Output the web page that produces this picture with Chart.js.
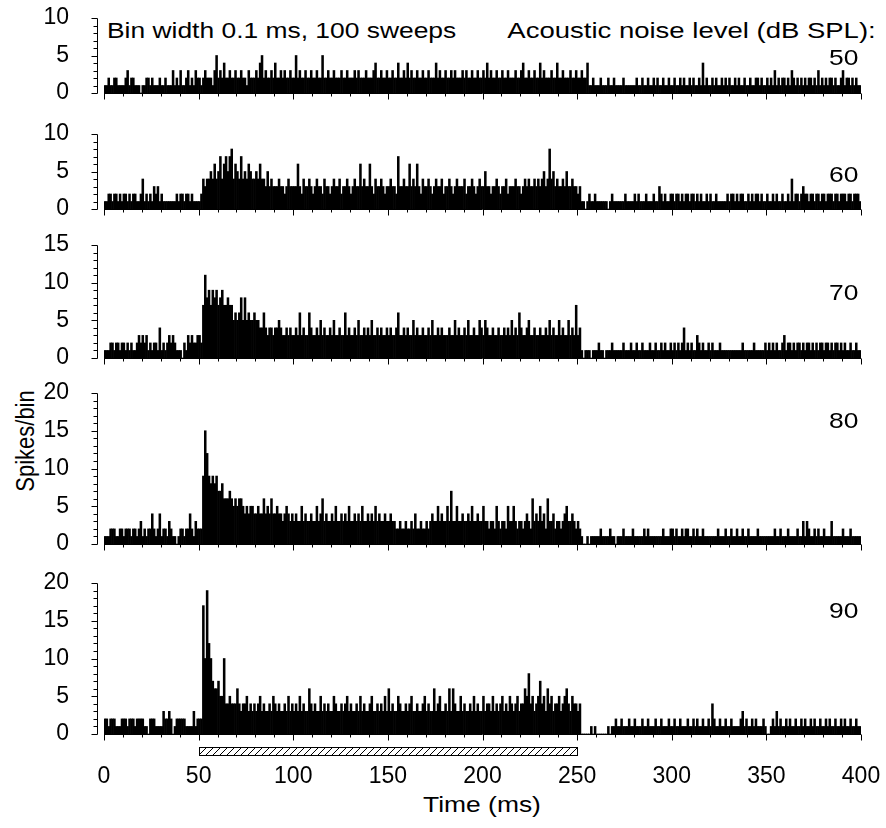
<!DOCTYPE html>
<html>
<head>
<meta charset="utf-8">
<script src="https://cdn.jsdelivr.net/npm/chart.js@4.4.1/dist/chart.umd.min.js"></script>
<style>
  body { margin: 0; width: 886px; height: 828px; position: relative; overflow: hidden; background: #fff;
         font-family: "Liberation Sans", Arial, sans-serif; color: #000; }
  canvas { position: absolute; left: 0; }
  .txt { position: absolute; font-size: 22px; line-height: 22px; white-space: nowrap; }
</style>
</head>
<body>
<div class="txt" style="left:107px; top:20px; transform:scaleX(1.2); transform-origin:left center;">Bin width 0.1 ms, 100 sweeps</div>
<div class="txt" style="right:10px; top:20px; transform:scaleX(1.25); transform-origin:right center;">Acoustic noise level (dB SPL):</div>
<div class="txt" style="left:26px; top:441px; transform:translate(-50%,-50%) rotate(-90deg) scaleY(1.2);">Spikes/bin</div>
<div class="txt" style="left:482px; top:805px; transform:translate(-50%,-50%) scaleX(1.2);">Time (ms)</div>
<script>
// noise levels (dB SPL) and y-axis maximum of each panel
const levels = ['50', '60', '70', '80', '90'];
const yMax = [10, 10, 15, 20, 20];
// stimulus on / off (ms)
const stimulus = [50, 250];

// spikes per bin, read per 1 ms column (0 - 400 ms)
const counts50 = [
  1,1,2,1,1,2,2,1,1,1, 1,2,3,1,2,2,1,1,1,0, 1,1,2,2,1,2,1,1,1,2, 1,1,2,1,1,1,3,1,2,1, 3,1,1,2,3,1,2,1,3,2,
  2,1,2,3,2,2,2,1,3,5, 2,3,2,4,2,2,3,2,2,3, 2,2,3,2,2,1,3,2,2,2, 3,2,4,5,2,3,2,2,3,2, 4,2,2,3,2,3,2,2,3,2,
  2,5,2,3,2,2,3,2,2,3, 2,2,3,2,2,5,2,2,3,2, 2,3,2,2,2,3,2,2,3,2, 2,2,3,2,3,2,2,2,3,2, 2,2,3,4,2,2,3,2,2,3,
  2,2,3,2,2,4,2,2,3,2, 4,2,3,2,2,3,2,2,3,2, 2,3,2,2,2,4,2,3,2,2, 3,2,2,3,2,3,2,2,2,3, 2,3,2,2,3,2,2,3,2,2,
  3,2,4,2,3,2,2,3,2,2, 3,2,2,3,2,2,2,3,2,2, 3,4,2,2,3,2,2,3,2,2, 4,2,3,2,2,2,3,2,2,4, 2,2,3,2,2,2,3,2,2,3,
  2,2,3,2,2,4,1,1,2,1, 1,1,2,1,1,1,2,1,1,2, 1,1,1,1,2,1,1,1,1,1, 1,2,1,1,2,1,1,2,1,1, 2,1,2,1,1,2,1,1,2,1,
  1,2,1,1,2,1,2,1,1,2, 1,2,1,1,2,1,4,1,2,1, 1,2,1,2,1,1,2,1,2,1, 2,1,1,2,1,2,1,1,2,1, 1,2,1,1,2,2,1,2,1,1,
  2,1,2,1,3,1,2,1,2,2, 1,2,1,3,2,1,2,1,2,1, 2,1,2,2,1,2,1,3,1,2, 1,2,1,2,2,1,2,1,1,2, 3,1,2,2,1,2,1,2,1,1
];
const counts60 = [
  1,1,2,2,1,2,2,1,2,1, 2,2,1,2,1,2,2,1,1,2, 4,1,2,1,2,1,3,2,3,1, 2,1,1,1,1,1,1,1,2,1, 2,2,1,2,2,1,2,1,1,1,
  1,2,4,3,4,4,5,4,6,4, 5,7,4,6,7,5,7,8,4,6, 5,4,7,4,5,4,6,5,4,4, 5,4,6,4,4,3,5,3,4,3, 3,3,4,3,3,2,3,4,3,3,
  3,3,6,3,2,4,3,3,4,3, 2,3,4,3,3,2,4,3,3,2, 3,4,3,3,4,2,3,3,4,3, 2,3,4,3,3,6,3,4,3,3, 6,3,2,4,3,3,4,3,2,3,
  3,4,3,3,2,7,3,3,4,3, 3,6,3,4,3,6,3,2,4,3, 3,4,3,2,3,4,3,3,4,2, 3,3,4,3,2,3,4,3,3,3, 4,2,3,3,4,3,2,3,4,3,
  3,5,3,3,2,3,3,4,3,2, 3,3,4,2,3,3,3,4,3,3, 2,3,4,3,4,3,3,4,3,4, 3,4,5,3,4,8,4,5,3,4, 3,3,4,3,5,3,3,4,3,3,
  2,3,1,1,0,1,2,1,1,2, 1,1,1,1,1,1,0,1,2,1, 1,1,1,1,1,2,1,1,1,1, 2,1,2,1,1,1,2,1,1,1, 2,1,1,3,2,1,2,1,1,2,
  2,1,2,2,1,2,1,2,2,1, 2,2,1,2,1,2,1,1,2,1, 2,1,1,2,1,1,1,1,1,2, 1,2,2,1,2,1,2,2,1,1, 2,1,2,1,2,2,1,2,1,1,
  2,1,1,2,1,2,1,1,2,1, 1,2,1,4,1,2,2,1,2,3, 2,2,1,2,2,1,2,2,1,2, 2,1,2,2,2,1,2,2,1,2, 2,2,1,2,2,1,2,2,2,1
];
const counts70 = [
  1,1,1,2,2,1,2,2,1,2, 2,1,2,1,2,1,1,2,3,2, 3,2,3,1,2,1,2,2,1,4, 1,2,1,2,3,2,3,2,1,1, 1,0,2,1,3,2,3,2,2,3,
  3,2,7,11,8,9,7,9,8,9, 7,8,9,7,7,8,7,7,5,6, 5,6,8,5,8,5,6,5,5,6, 5,5,4,4,6,4,3,4,4,3, 4,4,5,4,3,3,4,3,4,3,
  3,4,3,6,3,4,3,3,6,4, 3,3,4,3,5,3,4,3,3,4, 3,5,3,3,4,3,3,6,3,4, 3,3,4,3,5,3,3,4,3,4, 3,5,3,3,4,3,4,3,3,4,
  3,4,3,3,4,6,3,3,4,3, 4,3,3,5,3,4,3,3,4,3, 3,4,3,5,3,3,4,3,4,3, 3,3,4,3,3,5,3,4,3,3, 4,3,5,3,3,4,3,3,5,4,
  3,5,4,3,3,4,3,3,4,3, 3,4,3,4,3,5,3,4,3,6, 4,3,3,4,5,3,3,4,3,3, 4,3,3,4,3,5,3,4,3,3, 5,3,4,3,3,5,3,4,3,7,
  3,4,1,0,1,1,1,0,1,1, 1,2,1,1,0,1,1,1,2,1, 1,1,1,1,2,1,1,1,2,1, 1,2,1,1,2,1,1,1,2,1, 1,2,1,1,2,1,2,1,1,2,
  1,2,1,2,1,2,4,1,2,1, 2,1,1,3,2,1,2,1,1,2, 1,2,1,1,1,2,1,1,1,1, 1,1,1,1,1,1,1,2,1,1, 1,1,1,2,1,1,1,1,1,2,
  1,2,1,2,1,2,1,1,2,3, 1,2,2,1,2,1,2,2,1,2, 1,2,2,1,2,1,2,1,2,2, 1,2,2,1,2,1,2,2,1,2, 1,2,1,1,2,1,1,2,1,1
];
const counts80 = [
  1,1,1,2,2,2,1,1,2,2, 1,2,2,2,1,2,2,1,2,3, 1,2,1,2,2,4,2,1,2,4, 1,2,2,1,3,2,1,1,0,1, 2,2,1,2,2,4,2,1,3,2,
  2,2,9,15,12,9,8,9,8,9, 7,7,8,6,6,6,7,6,5,6, 5,6,6,5,4,5,4,5,5,4, 4,5,4,4,6,4,5,4,6,4, 4,5,4,4,3,4,5,4,3,4,
  3,4,3,3,5,3,4,3,3,4, 3,3,5,3,4,6,3,4,3,3, 4,3,5,3,3,4,3,4,3,5, 3,3,4,3,4,3,5,3,3,4, 3,4,3,5,3,4,3,3,4,3,
  3,4,3,3,2,2,3,2,2,3, 2,2,3,2,4,2,2,3,2,2, 3,2,3,4,3,3,5,3,4,3, 3,5,3,7,3,3,5,3,3,4, 3,3,4,3,5,3,3,4,3,3,
  5,3,3,2,3,3,2,5,3,2, 3,3,2,5,3,3,5,3,2,3, 3,2,3,4,3,2,6,3,4,3, 5,3,4,2,6,3,3,4,2,3, 3,2,3,4,5,3,3,4,3,2,
  3,2,1,0,0,1,0,1,1,1, 1,1,2,1,1,1,1,2,1,1, 0,1,1,1,2,1,1,1,1,2, 1,1,1,1,1,2,1,2,1,1, 1,1,1,1,1,2,1,1,1,2,
  2,1,2,1,1,2,1,2,2,1, 1,2,1,2,1,1,2,1,1,1, 1,1,1,1,2,1,1,1,2,1, 1,2,1,1,2,1,1,2,1,1, 2,1,1,1,1,2,1,1,1,1,
  1,1,1,1,2,1,1,2,1,1, 1,2,1,1,1,1,2,1,1,3, 1,3,2,1,1,2,1,2,1,1, 2,1,1,1,3,1,1,1,1,1, 2,1,1,1,2,1,1,1,1,1
];
const counts90 = [
  2,2,1,2,2,2,1,1,1,2, 2,2,1,2,2,2,1,2,2,2, 2,1,1,0,2,2,2,1,1,1, 1,3,2,2,3,2,0,1,2,2, 2,2,2,1,1,1,1,3,1,2,
  2,2,17,10,19,12,10,7,6,6, 7,5,5,10,4,4,5,4,4,4, 6,4,3,4,4,5,3,4,3,4, 3,4,5,3,4,3,3,4,3,5, 4,3,4,3,3,4,3,5,3,4,
  3,4,3,5,3,4,3,3,6,4, 3,4,3,3,5,3,4,3,4,3, 3,5,4,3,3,4,3,4,5,3, 4,3,3,4,3,5,3,4,3,3, 4,5,3,3,4,3,4,3,5,3,
  6,3,4,3,3,5,4,3,3,4, 3,4,5,3,3,4,3,3,4,5, 3,4,3,3,6,3,4,5,3,3, 4,3,6,3,6,4,3,3,5,3, 4,3,3,4,3,5,3,4,3,3,
  5,3,4,4,3,5,3,4,3,4, 5,3,4,3,5,4,3,4,5,3, 4,4,6,5,8,4,5,3,4,5, 7,4,5,3,6,4,5,3,4,4, 5,3,4,5,6,4,3,5,4,4,
  3,4,0,0,0,0,0,1,0,1, 0,0,0,0,0,0,1,0,1,1, 2,1,1,2,1,1,1,2,1,1, 2,1,1,1,2,1,1,2,1,1, 1,2,1,1,2,1,1,1,2,1,
  1,2,1,1,2,1,1,1,2,1, 1,2,1,2,1,1,2,1,1,2, 1,4,2,1,1,2,1,1,2,1, 1,2,1,1,1,1,2,3,1,2, 1,1,2,1,2,1,1,1,2,1,
  0,0,1,2,1,3,1,2,1,1, 2,1,2,1,1,2,1,1,2,1, 2,1,1,2,1,2,1,1,2,1, 1,2,1,2,1,1,2,1,1,2, 1,2,1,1,2,1,1,2,1,1
];
const series = [counts50, counts60, counts70, counts80, counts90];

// page placement of each panel: pixel of the top tick, of zero, and of the level label
const layout = [
  { top: 18,  zero: 93,  label: 58 },
  { top: 134, zero: 209, label: 175 },
  { top: 245, zero: 358, label: 293 },
  { top: 393, zero: 544, label: 421 },
  { top: 583, zero: 734, label: 611 }
];
const FONT = '"Liberation Sans", Arial, sans-serif';

// axis lines with 1-unit / 10-ms ticks, drawn from the scales
const axesPlugin = {
  id: 'axes',
  afterDatasetsDraw(chart) {
    const { ctx, scales: { x, y } } = chart;
    ctx.save();
    ctx.strokeStyle = '#000';
    ctx.lineWidth = 1;
    ctx.beginPath();
    const x0 = x.getPixelForValue(0), x1 = x.getPixelForValue(400);
    const y0 = Math.round(y.getPixelForValue(0)) + 0.5;
    const ax = Math.round(x0 - 7) + 0.5;
    ctx.moveTo(ax, Math.round(y.getPixelForValue(y.max)) + 0.5);
    ctx.lineTo(ax, y0);
    for (let v = 0; v <= y.max; v++) {
      const py = Math.round(y.getPixelForValue(v)) + 0.5;
      ctx.moveTo(ax, py);
      ctx.lineTo(ax - (v % 5 === 0 ? 6 : 4), py);
    }
    ctx.moveTo(x0, y0);
    ctx.lineTo(x1, y0);
    for (let t = 0; t <= 400; t += 10) {
      const px = Math.round(x.getPixelForValue(t)) + 0.5;
      ctx.moveTo(px, y0);
      ctx.lineTo(px, y0 + (t % 50 === 0 ? 6 : 3));
    }
    ctx.stroke();
    ctx.restore();
  }
};

// hatched stimulus bar under the last panel
const stimPlugin = {
  id: 'stim',
  afterDraw(chart) {
    const { ctx, scales: { x, y } } = chart;
    const xa = Math.round(x.getPixelForValue(stimulus[0])) + 0.5;
    const xb = Math.round(x.getPixelForValue(stimulus[1])) + 0.5;
    const top = Math.round(y.getPixelForValue(0)) + 13.5, h = 8;
    ctx.save();
    ctx.strokeStyle = '#000';
    ctx.lineWidth = 1;
    ctx.beginPath();
    ctx.rect(xa, top, xb - xa, h);
    ctx.clip();
    ctx.beginPath();
    for (let s = xa - h; s < xb + h; s += 7) {
      ctx.moveTo(s, top + h);
      ctx.lineTo(s + h, top);
    }
    ctx.stroke();
    ctx.restore();
    ctx.save();
    ctx.strokeStyle = '#000';
    ctx.strokeRect(xa, top, xb - xa, h);
    ctx.restore();
  }
};

function makePanel(i) {
  const last = i === series.length - 1;
  const box = layout[i];
  const padTop = 16;
  const extra = last ? 64 : 12;
  const canvas = document.createElement('canvas');
  canvas.width = 886;
  canvas.height = box.zero - box.top + padTop + extra;
  canvas.style.top = (box.top - padTop) + 'px';
  document.body.appendChild(canvas);

  new Chart(canvas, {
    type: 'bar',
    data: {
      datasets: [{
        data: series[i].map((v, k) => ({ x: k + 0.5, y: v })),
        backgroundColor: '#000',
        borderWidth: 0,
        barPercentage: 1,
        categoryPercentage: 1
      }]
    },
    options: {
      responsive: false,
      animation: false,
      devicePixelRatio: 1,
      layout: { padding: { top: padTop, right: 25, left: 0, bottom: 0 } },
      plugins: { legend: { display: false }, tooltip: { enabled: false } },
      scales: {
        x: {
          type: 'linear', min: 0, max: 400, offset: false,
          grid: { display: false, offset: false }, border: { display: false },
          ticks: { display: last, stepSize: 50, padding: 21, maxRotation: 0, color: '#000',
                   font: { family: FONT, size: 23 } },
          afterFit: s => { s.height = extra; s.paddingLeft = 0; s.paddingRight = 0; }
        },
        y: {
          min: 0, max: yMax[i],
          grid: { display: false }, border: { display: false },
          ticks: { stepSize: 5, padding: 27, color: '#000', font: { family: FONT, size: 23 } },
          afterFit: s => { s.width = 104; s.paddingTop = 0; s.paddingBottom = 0; }
        }
      }
    },
    plugins: last ? [axesPlugin, stimPlugin] : [axesPlugin]
  });

  // noise level label at the right of the panel
  const lab = document.createElement('div');
  lab.className = 'txt';
  lab.textContent = levels[i];
  lab.style.right = '28px';
  lab.style.top = (box.label - 11) + 'px';
  lab.style.transform = 'scaleX(1.2)';
  lab.style.transformOrigin = 'right center';
  document.body.appendChild(lab);
}

series.forEach((_, i) => makePanel(i));
</script>
</body>
</html>
